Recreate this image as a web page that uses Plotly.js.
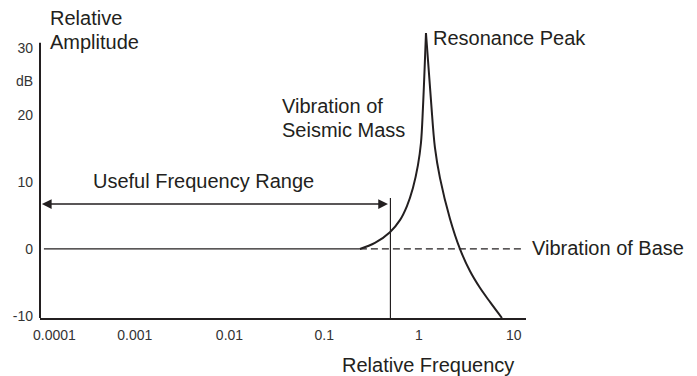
<!DOCTYPE html>
<html>
<head>
<meta charset="utf-8">
<script src="https://cdn.plot.ly/plotly-3.0.1.min.js"></script>
<style>html,body{margin:0;padding:0;background:#fff;}#chart{width:697px;height:376px;}</style>
</head>
<body>
<div id="chart"></div>
<script>
// ---- data ----
var xTickVals = [0.001, 0.01, 0.1, 1, 10];
var xTickText = ["0.001", "0.01", "0.1", "1", "10"];
var firstXTick = "0.0001";
var yTickVals = [-10, 0, 10, 20, 25, 30];
var yTickText = ["-10", "0", "10", "20", "dB", "30"];
var yAxisTop = 30.75;

// rising branch of the seismic-mass response (relative frequency, dB)
var freqRise = [0.238, 0.343, 0.494, 0.630, 0.747, 0.864, 0.976, 1.050, 1.102, 1.186];
var dbRise   = [0, 0.9, 2.5, 4.3, 6.4, 9.1, 12.5, 15.8, 21.0, 32.2];
// falling branch after the resonance peak
var freqFall = [1.186, 1.339, 1.475, 1.666, 2.125, 2.709, 3.454, 4.405, 5.616, 7.52];
var dbFall   = [32.2, 22.2, 15.1, 10.6, 4.5, 0, -3.3, -5.8, -7.9, -10.3];

// vibration of base (0 dB line): solid part and dashed part
var freqBaseSolid = [0.00011, 0.238];
var dbBaseSolid   = [0, 0];
var freqBaseDash  = [0.238, 12.5];
var dbBaseDash    = [0, 0];

// useful frequency range limit
var freqLimit = [0.5, 0.5];
var dbLimit   = [-10.3, 7.6];
var rangeArrowFreq = [0.0001, 0.471];
var rangeArrowDb = 6.7;

var ink = "#231f20";
var font = "Liberation Sans, Arial, Helvetica, sans-serif";

var traces = [
  {x: freqBaseSolid, y: dbBaseSolid, mode: "lines", line: {color: ink, width: 1.2}, hoverinfo: "skip"},
  {x: freqBaseDash, y: dbBaseDash, mode: "lines", line: {color: ink, width: 1.2, dash: "7px,4px"}, hoverinfo: "skip"},
  {x: freqLimit, y: dbLimit, mode: "lines", line: {color: ink, width: 1.2}, hoverinfo: "skip"},
  {x: freqRise, y: dbRise, mode: "lines", line: {color: ink, width: 2, shape: "spline", smoothing: 1}},
  {x: freqFall, y: dbFall, mode: "lines", line: {color: ink, width: 2, shape: "spline", smoothing: 1}}
];

var plotTop = 31, plotBottom = 318, plotLeft = 40, plotRight = 526;
function px2x(px) { return (px - plotLeft) / (plotRight - plotLeft); }
function px2y(py) { return (plotBottom - py) / (plotBottom - plotTop); }
function label(text, px, py, size, anchor) {
  return {text: text, xref: "paper", yref: "paper", x: px2x(px), y: px2y(py),
          xanchor: anchor || "left", yanchor: "middle", showarrow: false,
          font: {family: font, size: size || 20, color: ink}};
}

var annotations = [
  label("Relative", 48, 18),
  label("Amplitude", 48, 42),
  label("Resonance Peak", 431, 38),
  label("Vibration of", 280, 106),
  label("Seismic Mass", 280, 130),
  label("Useful Frequency Range", 91, 181),
  label("Vibration of Base", 530, 248),
  label("Relative Frequency", 340, 365),
  {text: firstXTick, xref: "paper", yref: "paper", x: px2x(31), y: px2y(335), xanchor: "left", yanchor: "middle",
   showarrow: false, font: {family: font, size: 14, color: "#333"}},
  {text: "", xref: "x", yref: "y", axref: "x", ayref: "y",
   x: Math.log10(rangeArrowFreq[1]), y: rangeArrowDb,
   ax: Math.log10(rangeArrowFreq[0]) + 0.004, ay: rangeArrowDb,
   showarrow: true, arrowhead: 2, startarrowhead: 2, arrowside: "end+start",
   arrowsize: 1.3, startarrowsize: 1.3, arrowwidth: 1.5, arrowcolor: ink, standoff: 0, startstandoff: 0}
];

var shapes = [
  // vertical axis line, stopping at the top of the scale
  {type: "line", xref: "paper", yref: "y", x0: 0, x1: 0, y0: -10.3, y1: yAxisTop,
   line: {color: ink, width: 2}}
];

var layout = {
  width: 697, height: 376,
  margin: {l: plotLeft, r: 697 - plotRight, t: plotTop, b: 376 - plotBottom, pad: 0},
  paper_bgcolor: "#ffffff", plot_bgcolor: "#ffffff",
  showlegend: false,
  font: {family: font, color: ink},
  xaxis: {type: "log", range: [-4, 1.13], showline: true, linewidth: 2, linecolor: ink,
          showgrid: false, zeroline: false, ticks: "", tickmode: "array",
          tickvals: xTickVals, ticktext: xTickText, ticklabelstandoff: 3,
          tickfont: {family: font, size: 14, color: "#333"}},
  yaxis: {range: [-10.3, 32.5], showline: false, showgrid: false, zeroline: false,
          ticks: "", tickmode: "array",
          tickvals: yTickVals, ticktext: yTickText, ticklabelstandoff: 6,
          tickfont: {family: font, size: 14, color: "#333"}},
  shapes: shapes,
  annotations: annotations
};

Plotly.newPlot("chart", traces, layout, {displayModeBar: false, staticPlot: true});
</script>
</body>
</html>
